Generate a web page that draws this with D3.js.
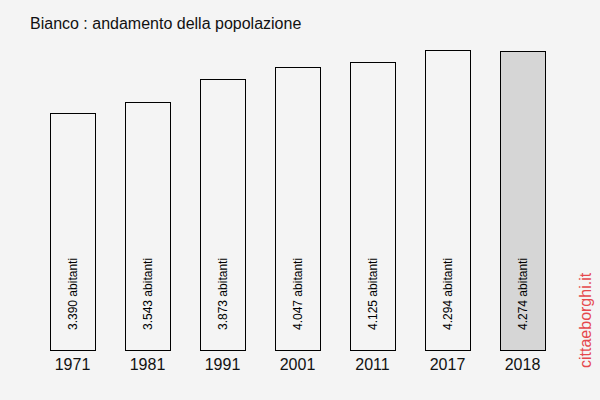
<!DOCTYPE html>
<html>
<head>
<meta charset="utf-8">
<script src="https://cdn.jsdelivr.net/npm/d3@7"></script>
<style>
  body { margin: 0; background: #f4f4f4; }
  svg { display: block; }
</style>
</head>
<body>
<svg id="chart" width="600" height="400"></svg>
<script>
const title = 'Bianco : andamento della popolazione'
const years = ['1971', '1981', '1991', '2001', '2011', '2017', '2018']
const population = [3390, 3543, 3873, 4047, 4125, 4294, 4274]
const highlightYear = '2018'

const width = 600
const height = 400
const margin = { top: 50, left: 50, bottom: 50 }
const font = "'Liberation Sans', Arial, sans-serif"

const data = years.map((y, i) => ({ year: y, value: population[i] }))

const svg = d3.select('#chart')

svg
  .append('rect')
  .attr('width', width)
  .attr('height', height)
  .attr('fill', '#f4f4f4')

const x = d3
  .scaleBand()
  .domain(years)
  .range([margin.left, 545])
  .paddingInner(0.4)
  .paddingOuter(0)

const y = d3
  .scaleLinear()
  .domain([0, d3.max(population)])
  .range([height - margin.bottom, margin.top])

const fmt = d3.formatLocale({ decimal: ',', thousands: '.', grouping: [3], currency: ['', '€'] }).format(',d')

svg
  .append('text')
  .attr('x', 30)
  .attr('y', 29)
  .attr('font-family', font)
  .attr('font-size', 16)
  .attr('fill', '#111')
  .text(title)

svg
  .append('g')
  .selectAll('rect')
  .data(data)
  .join('rect')
  .attr('x', (d) => x(d.year) + 0.5)
  .attr('y', (d) => Math.round(y(d.value)) + 0.5)
  .attr('width', x.bandwidth())
  .attr('height', (d) => Math.round(y(0)) - Math.round(y(d.value)))
  .attr('fill', (d) => (d.year === highlightYear ? '#d6d6d6' : '#f4f4f4'))
  .attr('stroke', '#000')
  .attr('stroke-width', 1)

// value labels, rotated inside the bars
svg
  .append('g')
  .attr('font-family', font)
  .attr('font-size', 12)
  .attr('fill', '#000')
  .selectAll('text')
  .data(data)
  .join('text')
  .attr('transform', (d) => `translate(${x(d.year) + x.bandwidth() / 2 + 4},330) rotate(-90)`)
  .text((d) => `${fmt(d.value)} abitanti`)

// year labels under bars
svg
  .append('g')
  .attr('font-family', font)
  .attr('font-size', 16)
  .attr('fill', '#111')
  .attr('text-anchor', 'middle')
  .selectAll('text')
  .data(data)
  .join('text')
  .attr('x', (d) => x(d.year) + x.bandwidth() / 2)
  .attr('y', 370)
  .text((d) => d.year)

svg
  .append('text')
  .attr('transform', 'translate(591,368) rotate(-90)')
  .attr('font-family', font)
  .attr('font-size', 16)
  .attr('fill', '#e5484d')
  .text('cittaeborghi.it')
</script>
</body>
</html>
